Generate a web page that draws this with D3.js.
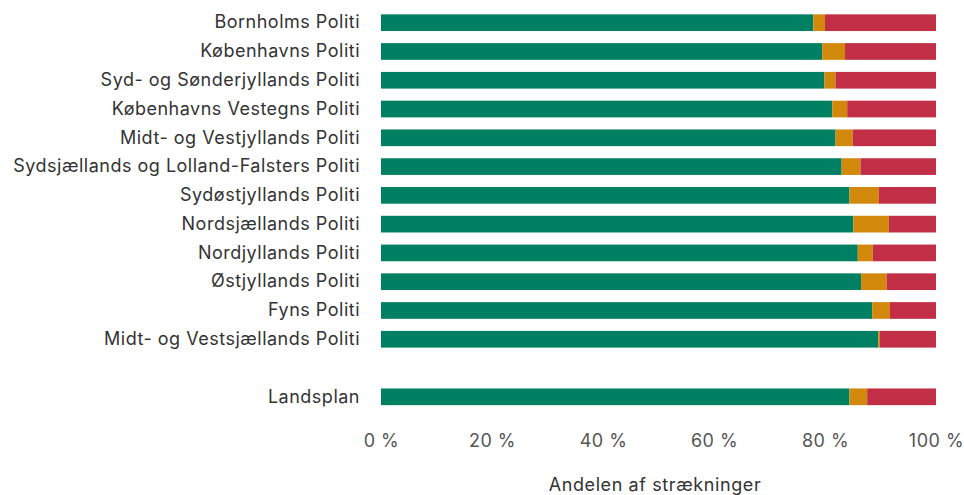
<!DOCTYPE html>
<html><head><meta charset="utf-8">
<script src="https://cdn.jsdelivr.net/npm/d3@7"></script>
<style>body{margin:0;background:#fff}</style>
</head><body>
<svg id="c" width="964" height="495"></svg>
<script>
const categories = ["Bornholms Politi","Københavns Politi","Syd- og Sønderjyllands Politi","Københavns Vestegns Politi","Midt- og Vestjyllands Politi","Sydsjællands og Lolland-Falsters Politi","Sydøstjyllands Politi","Nordsjællands Politi","Nordjyllands Politi","Østjyllands Politi","Fyns Politi","Midt- og Vestsjællands Politi","","Landsplan"];
const greenVals  = [77.9,79.5,79.9,81.3,81.9,83.0,84.4,85.1,85.9,86.5,88.5,89.6,null,84.4];
const orangeVals = [2.1,4.1,2.0,2.7,3.1,3.4,5.3,6.4,2.7,4.6,3.2,0.3,null,3.2];
const redVals    = [20.0,16.4,18.1,16.0,15.0,13.6,10.3,8.5,11.4,8.9,8.3,10.1,null,12.4];
const tickVals = [0,20,40,60,80,100];
const seriesKeys = ["green","orange","red"];
const colors = ["#008062","#d2880a","#c22e45"];

const rows = categories.map((c,i)=>({cat:c,green:greenVals[i],orange:orangeVals[i],red:redVals[i]})).filter(d=>d.green!==null);
const svg = d3.select("#c");
const x = d3.scaleLinear().domain([0,100]).range([381,936]);
const y = d3.scaleBand().domain(categories).range([8.3,411.2]).paddingInner(0.42).paddingOuter(0.21);
const stack = d3.stack().keys(seriesKeys)(rows);
const font = "Inter, 'Noto Sans', sans-serif";

svg.append("g").selectAll("g").data(stack).join("g").attr("fill",(d,i)=>colors[i])
  .selectAll("rect").data(d=>d).join("rect")
  .attr("x",d=>x(d[0])).attr("width",d=>x(d[1])-x(d[0]))
  .attr("y",d=>y(d.data.cat)).attr("height",y.bandwidth());

const yAxis = svg.append("g").attr("transform","translate(381,0)")
  .call(d3.axisLeft(y).tickSize(0).tickPadding(21).tickValues(categories.filter(c=>c!=="")));
yAxis.select(".domain").remove();
yAxis.selectAll("text").attr("font-family",font).attr("font-size",18).attr("fill","#333").attr("letter-spacing","0.5");

const xAxis = svg.append("g").attr("transform","translate(0,422)")
  .call(d3.axisBottom(x).tickValues(tickVals).tickSize(0).tickPadding(12).tickFormat(d=>d+" %"));
xAxis.select(".domain").remove();
xAxis.selectAll("text").attr("font-family",font).attr("font-size",18).attr("fill","#555").attr("letter-spacing","0.5");

svg.append("text").attr("x",655).attr("y",491).attr("text-anchor","middle")
  .attr("font-family",font).attr("font-size",18).attr("fill","#333").attr("letter-spacing","0.6")
  .text("Andelen af strækninger");
</script>
</body></html>
